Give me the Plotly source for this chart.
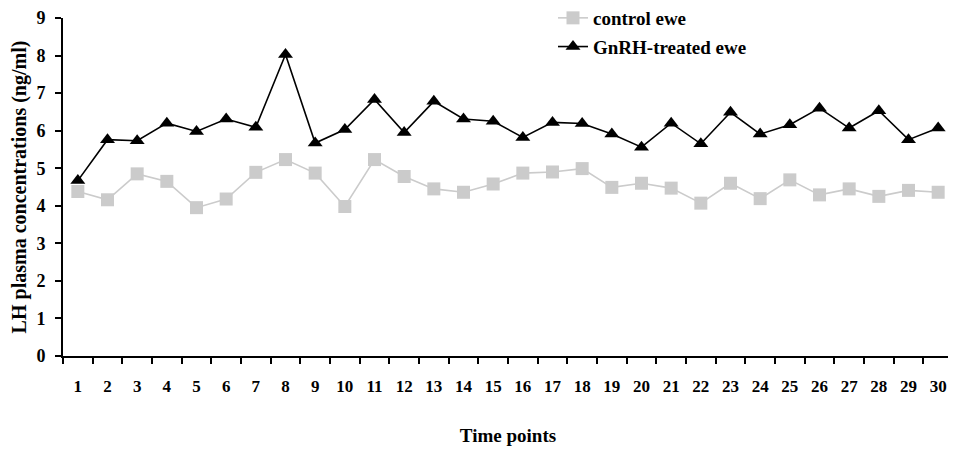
import plotly.graph_objects as go

time_points = [str(i) for i in range(1, 31)]
control_ewe = [4.38, 4.16, 4.85, 4.65, 3.95, 4.18, 4.89, 5.23, 4.87, 3.98,
               5.23, 4.78, 4.45, 4.36, 4.58, 4.87, 4.90, 4.99, 4.49, 4.60,
               4.47, 4.07, 4.60, 4.19, 4.69, 4.29, 4.45, 4.25, 4.41, 4.36]
gnrh_ewe = [4.67, 5.76, 5.73, 6.20, 5.98, 6.31, 6.09, 8.03, 5.67, 6.03,
            6.83, 5.95, 6.78, 6.31, 6.25, 5.82, 6.22, 6.19, 5.91, 5.56,
            6.20, 5.65, 6.49, 5.91, 6.16, 6.60, 6.07, 6.53, 5.76, 6.07]
y_ticks = list(range(0, 10))

FONT = "Liberation Serif"

# the page body has an 8px default margin, so the figure is offset by 8px
W, H = 948, 441
L, R, T, B = 55, 3, 10, 93

fig = go.Figure()
fig.add_trace(go.Scatter(
    x=time_points, y=control_ewe, name="control ewe", mode="lines+markers",
    legendgroup="a",
    line=dict(color="#cbcbcb", width=1.6),
    marker=dict(symbol="square", size=13, color="#cbcbcb"),
))
fig.add_trace(go.Scatter(
    x=time_points, y=gnrh_ewe, name="GnRH-treated ewe", mode="lines+markers",
    legendgroup="b",
    line=dict(color="#000000", width=1.6),
    marker=dict(symbol="triangle-up", size=13, color="#000000"),
))

plot_w = W - L - R
plot_h = H - T - B

fig.update_layout(
    width=W, height=H,
    margin=dict(l=L, r=R, t=T, b=B, autoexpand=False),
    paper_bgcolor="white", plot_bgcolor="white",
    font=dict(family=FONT, size=17, color="black", weight="bold"),
    showlegend=True,
    legend=dict(
        x=(545 - L) / plot_w, y=1 + (T + 9) / plot_h,
        xanchor="left", yanchor="top",
        font=dict(family=FONT, size=19, color="black", weight="bold"),
        bgcolor="rgba(0,0,0,0)", tracegroupgap=1,
    ),
    hovermode=False,
)
fig.update_xaxes(
    type="category", range=[-0.5, 29.5],
    showline=True, linecolor="black", linewidth=2,
    ticks="outside", ticklen=6, tickwidth=2, tickcolor="black",
    tickson="boundaries", showgrid=False, zeroline=False,
    tickangle=0, ticklabelstandoff=14,
    tickfont=dict(family=FONT, size=17, color="black", weight="bold"),
    title=dict(text="Time points", standoff=33,
               font=dict(family=FONT, size=19, color="black", weight="bold")),
)
fig.update_yaxes(
    range=[0, 9], tickvals=y_ticks,
    showline=True, linecolor="black", linewidth=2,
    ticks="outside", ticklen=6, tickwidth=2, tickcolor="black",
    showgrid=False, zeroline=False,
    ticklabelstandoff=6,
    tickfont=dict(family=FONT, size=18, color="black", weight="bold"),
    title=dict(text="LH plasma concentrations (ng/ml)", standoff=6,
               font=dict(family=FONT, size=20, color="black", weight="bold")),
)

fig.write_html("out.html", config={"displayModeBar": False})
